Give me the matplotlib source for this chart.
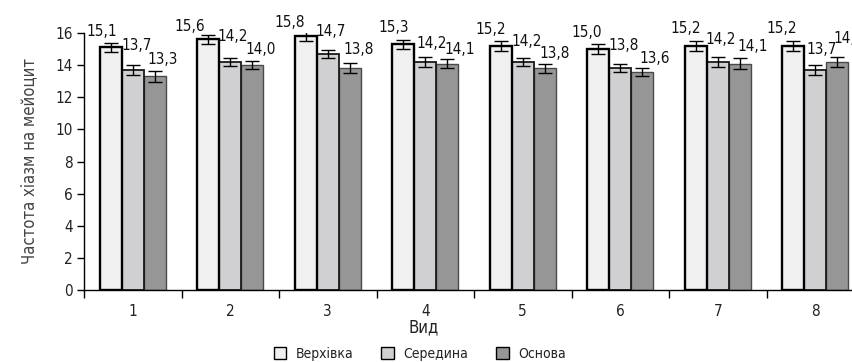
import matplotlib
matplotlib.use("Agg")
import matplotlib.pyplot as plt
from matplotlib.patches import Patch
from matplotlib.ticker import FixedLocator, NullFormatter
import numpy as np

plt.rcParams['font.family'] = ['DejaVu Sans']
plt.rcParams['font.stretch'] = 'condensed'

# Data
species = ['1', '2', '3', '4', '5', '6', '7', '8']
series_names = ['Верхівка', 'Середина', 'Основа']
top_vals = [15.1, 15.6, 15.8, 15.3, 15.2, 15.0, 15.2, 15.2]
mid_vals = [13.7, 14.2, 14.7, 14.2, 14.2, 13.8, 14.2, 13.7]
base_vals = [13.3, 14.0, 13.8, 14.1, 13.8, 13.6, 14.1, 14.2]
top_err = [0.30, 0.29, 0.30, 0.28, 0.32, 0.31, 0.33, 0.32]
mid_err = [0.30, 0.27, 0.26, 0.30, 0.27, 0.24, 0.30, 0.30]
base_err = [0.32, 0.27, 0.32, 0.30, 0.30, 0.25, 0.32, 0.30]

# Label offsets from the top of each error bar, in pixels (dx, dy)
label_dx = [[-9, -19, -16, -10, -10, -12, -10, -11],
            [4, 2, 3, 6, 4, 3, 3, 6],
            [8, 8, 9, 12, 10, 12, 13, 11]]
label_dy = [[7, 4, 4, 8, 7, 7, 8, 8],
            [15, 17, 14, 9, 12, 14, 13, 11],
            [7, 7, 9, 5, 6, 5, 7, 14]]

colors = ['#f0f0f0', '#d0d0d2', '#969696']
edge_colors = ['#000000', '#1a1a1a', '#4a4a4a']
edge_widths = [1.7, 1.3, 1.0]
W, H = 852, 362
fig = plt.figure(figsize=(W / 100, H / 100), dpi=100)

ax_left, ax_bottom_px, ax_top_px = 84, 290, 33
group_px = 97.5
ax_width_px = W - ax_left
ax = fig.add_axes([ax_left / W, 1 - ax_bottom_px / H,
                   ax_width_px / W, (ax_bottom_px - ax_top_px) / H])

x = np.arange(1, len(species) + 1)
bw = 22 / group_px
vals = [top_vals, mid_vals, base_vals]
errs = [top_err, mid_err, base_err]

for k in range(3):
    xs = x + (k - 1) * bw
    ax.bar(xs, vals[k], width=bw, color=colors[k], edgecolor=edge_colors[k],
           linewidth=edge_widths[k], zorder=2 + (2 - k) * 0.1)
    ax.errorbar(xs, vals[k], yerr=errs[k], fmt='none', ecolor='black',
                elinewidth=1.0, capsize=5, capthick=1.0, zorder=3)
    for i in range(len(species)):
        txt = f"{vals[k][i]:.1f}".replace('.', ',')
        ax.annotate(txt, xy=(xs[i], vals[k][i] + errs[k][i]),
                    xytext=(label_dx[k][i], label_dy[k][i]),
                    textcoords='offset pixels', ha='center', va='baseline',
                    fontsize=11, color='#111111',
                    annotation_clip=False, clip_on=False)

ax.set_ylim(0, 16)
ax.set_xlim(0.5, 0.5 + ax_width_px / group_px)
ax.set_yticks(np.arange(0, 17, 2))
ax.set_xticks(x)
ax.set_xticklabels(species)
ax.xaxis.set_minor_locator(FixedLocator(np.arange(0.5, len(species) + 0.5, 1)))
ax.xaxis.set_minor_formatter(NullFormatter())
ax.tick_params(axis='x', which='major', length=0, pad=10, labelsize=11, labelcolor='#222222')
ax.tick_params(axis='x', which='minor', length=6, width=1, direction='out')
ax.tick_params(axis='y', length=5, width=1, direction='out', labelsize=11, pad=3,
               labelcolor='#222222')

for s in ['top', 'right']:
    ax.spines[s].set_visible(False)
for s in ['left', 'bottom']:
    ax.spines[s].set_linewidth(1.0)

ax.set_ylabel('Частота хіазм на мейоцит', fontsize=12, color='#444444')
ax.yaxis.set_label_coords(-(ax_left - 38) / ax_width_px, 0.5)
ax.set_xlabel('Вид', fontsize=12, color='#222222')
ax.xaxis.set_label_coords((424 - ax_left) / ax_width_px, -(318 - ax_bottom_px) / (ax_bottom_px - ax_top_px))

handles = [Patch(facecolor=c, edgecolor='black', linewidth=1.0) for c in colors]
fig.legend(handles, series_names, loc='center', bbox_to_anchor=(420 / W, 1 - 354 / H),
           ncol=3, frameon=False, fontsize=10, handlelength=0.9, handleheight=0.9,
           handletextpad=0.7, columnspacing=2.0, labelcolor='#222222')

fig.savefig('out.png', dpi=100)
